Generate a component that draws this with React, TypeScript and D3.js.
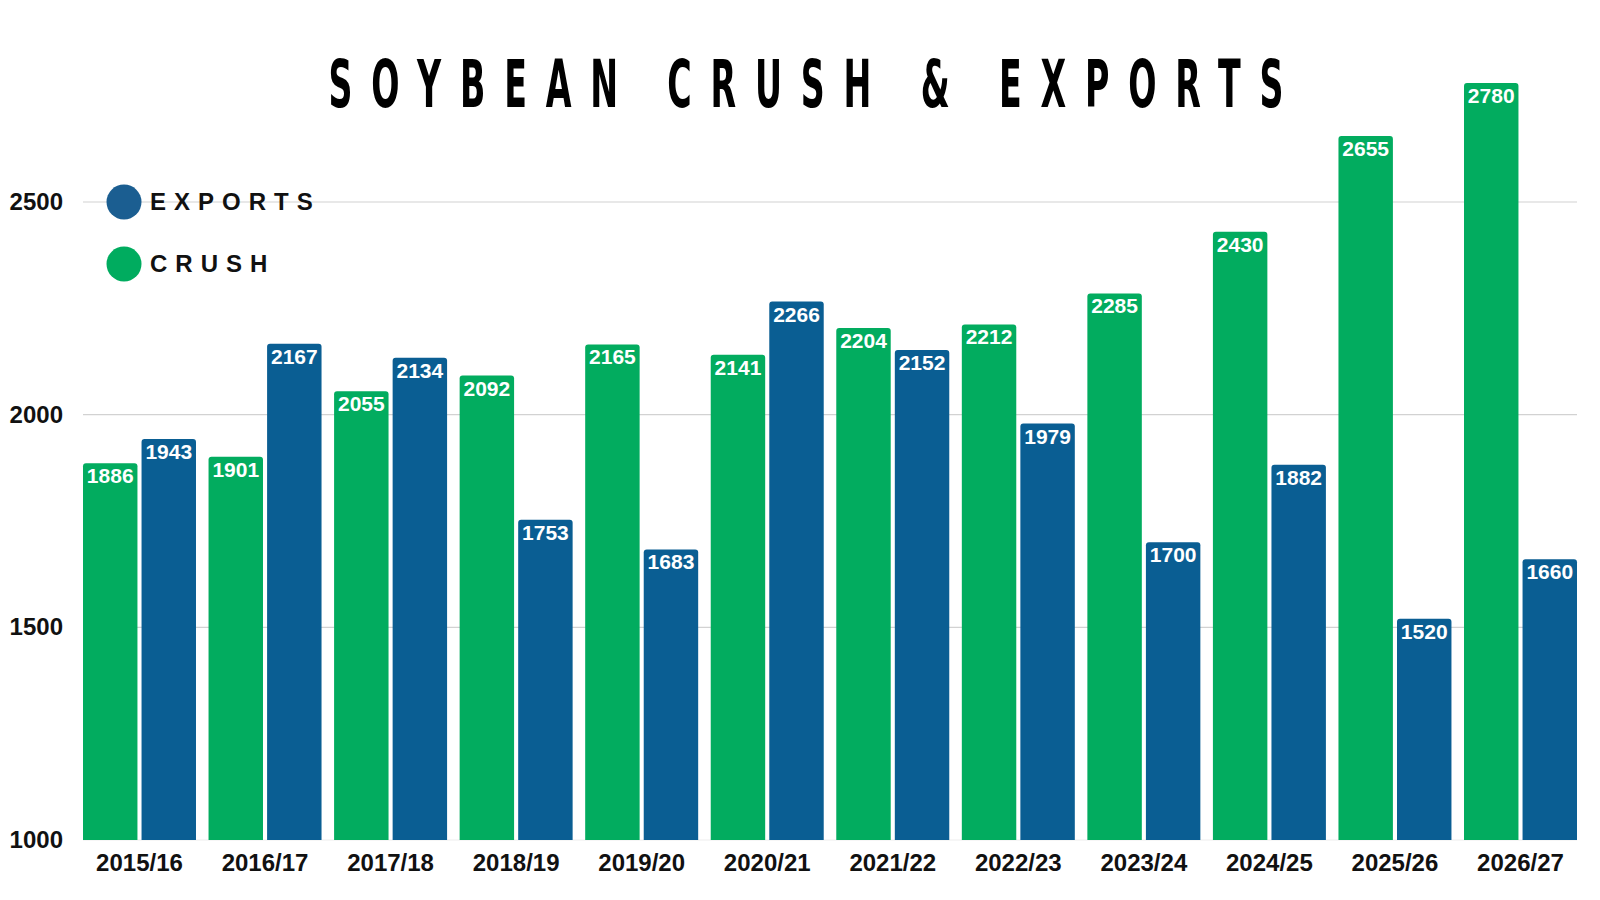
import * as d3 from 'd3';
import React, { useEffect } from 'react';

const seasons = [
  '2015/16', '2016/17', '2017/18', '2018/19', '2019/20', '2020/21',
  '2021/22', '2022/23', '2023/24', '2024/25', '2025/26', '2026/27',
];
const crush = [1886, 1901, 2055, 2092, 2165, 2141, 2204, 2212, 2285, 2430, 2655, 2780];
const exportsVals = [1943, 2167, 2134, 1753, 1683, 2266, 2152, 1979, 1700, 1882, 1520, 1660];
const yTicks = [1000, 1500, 2000, 2500];
const seriesKeys = ['crush', 'exports'];
const legendItems = [
  { label: 'EXPORTS', color: '#1B5E91' },
  { label: 'CRUSH', color: '#00AC5F' },
];

const GREEN = '#02AC5F';
const BLUE = '#0A5E93';

export default function App() {
  const ref = React.useRef<SVGSVGElement>(null);

  useEffect(() => {
    if (!ref.current) return;
    document.body.style.margin = '0';
    const svg = d3.select(ref.current);
    svg.selectAll('*').remove();

    const left = 83;
    const right = 1577;

    const x = d3.scaleBand().domain(seasons).range([left, right]).paddingInner(0.1).paddingOuter(0);
    const xSub = d3.scaleBand().domain(seriesKeys).range([0, x.bandwidth()]).paddingInner(0.07);
    const y = d3.scaleLinear().domain([1000, 2500]).range([840, 202]);
    const color = d3.scaleOrdinal<string>().domain(seriesKeys).range([GREEN, BLUE]);

    // gridlines
    svg
      .append('g')
      .selectAll('line')
      .data(yTicks)
      .enter()
      .append('line')
      .attr('x1', left)
      .attr('x2', right)
      .attr('y1', d => y(d))
      .attr('y2', d => y(d))
      .attr('stroke', d => (d === 1000 ? '#eeeeee' : '#d2d2d2'))
      .attr('stroke-width', 1.2);

    // y labels
    svg
      .append('g')
      .selectAll('text')
      .data(yTicks)
      .enter()
      .append('text')
      .attr('x', 63)
      .attr('y', d => y(d) + 8)
      .attr('text-anchor', 'end')
      .attr('font-family', 'Liberation Sans, Arial, sans-serif')
      .attr('font-weight', 'bold')
      .attr('font-size', 24)
      .attr('fill', '#111')
      .text(d => d);

    // bars
    const rows = seasons.map((s, i) => ({ season: s, crush: crush[i], exports: exportsVals[i] }));
    const barPath = (x0: number, y0: number, w: number, h: number, r: number) =>
      `M${x0},${y0 + h}V${y0 + r}Q${x0},${y0} ${x0 + r},${y0}H${x0 + w - r}Q${x0 + w},${y0} ${x0 + w},${y0 + r}V${y0 + h}Z`;

    const groups = svg
      .append('g')
      .selectAll('g')
      .data(rows)
      .enter()
      .append('g')
      .attr('transform', d => `translate(${x(d.season)},0)`);

    const cells = groups
      .selectAll('g')
      .data(d => seriesKeys.map(k => ({ key: k, value: (d as any)[k] as number })))
      .enter()
      .append('g');

    cells
      .append('path')
      .attr('d', d =>
        barPath(xSub(d.key) as number, y(d.value), xSub.bandwidth(), y(1000) - y(d.value), 3)
      )
      .attr('fill', d => color(d.key));

    cells
      .append('text')
      .attr('x', d => (xSub(d.key) as number) + xSub.bandwidth() / 2)
      .attr('y', d => y(d.value) + 20)
      .attr('text-anchor', 'middle')
      .attr('font-family', 'Liberation Sans, Arial, sans-serif')
      .attr('font-weight', 'bold')
      .attr('font-size', 21)
      .attr('fill', '#fff')
      .text(d => d.value);

    // x labels
    svg
      .append('g')
      .selectAll('text')
      .data(seasons)
      .enter()
      .append('text')
      .attr('x', d => (x(d) as number) + x.bandwidth() / 2)
      .attr('y', 871)
      .attr('text-anchor', 'middle')
      .attr('font-family', 'Liberation Sans, Arial, sans-serif')
      .attr('font-weight', 'bold')
      .attr('font-size', 24)
      .attr('fill', '#111')
      .text(d => d);

    // legend
    const legend = svg
      .append('g')
      .selectAll('g')
      .data(legendItems)
      .enter()
      .append('g')
      .attr('transform', (d, i) => `translate(0,${202 + i * 62})`);
    legend
      .append('circle')
      .attr('cx', 124)
      .attr('cy', 0)
      .attr('r', 17.5)
      .attr('fill', d => d.color);
    legend
      .append('text')
      .attr('x', 150)
      .attr('y', 8)
      .attr('font-family', 'Liberation Sans, Arial, sans-serif')
      .attr('font-weight', 'bold')
      .attr('font-size', 24)
      .attr('letter-spacing', 8)
      .attr('fill', '#111')
      .text(d => d.label);

    // title
    const sx = 0.56;
    svg
      .append('g')
      .attr('transform', `translate(806,107) scale(${sx},1)`)
      .append('text')
      .attr('x', 0)
      .attr('y', 0)
      .attr('text-anchor', 'middle')
      .attr('font-family', 'Liberation Sans Narrow, DejaVu Sans Condensed, sans-serif')
      .attr('font-weight', 'bold')
      .attr('font-size', 66)
      .attr('textLength', 955 / sx)
      .attr('lengthAdjust', 'spacing')
      .attr('fill', '#000')
      .text('SOYBEAN CRUSH & EXPORTS');
  }, []);

  return (
    <svg
      ref={ref}
      width={1600}
      height={900}
      style={{ position: 'absolute', left: 0, top: 0, background: '#fff' }}
    />
  );
}
